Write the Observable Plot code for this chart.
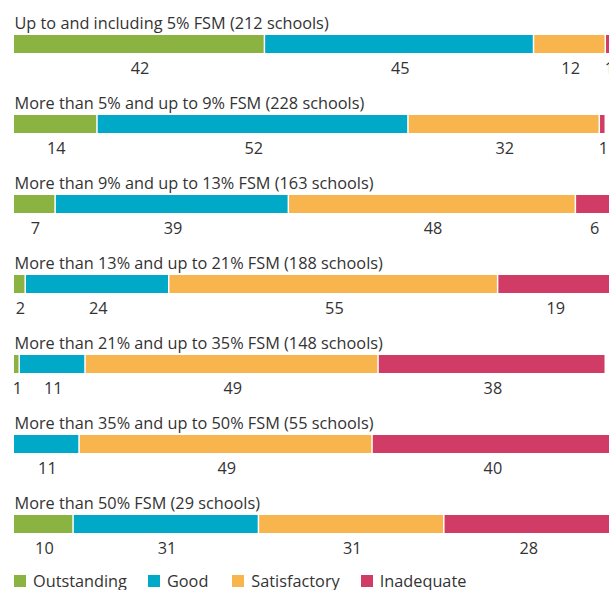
<!DOCTYPE html>
<html>
<head>
<meta charset="utf-8">
<script src="https://cdn.jsdelivr.net/npm/d3@7"></script>
<script src="https://cdn.jsdelivr.net/npm/@observablehq/plot@0.6"></script>
<style>
  html, body { margin: 0; padding: 0; background: #fff; overflow: hidden; }
  #chart { width: 609px; }
  .legend { display: flex; align-items: center; height: 18px; margin-top: -1px;
    font-family: "Open Sans", sans-serif; font-size: 16.3px; color: #333; }
  .legend .item { display: flex; align-items: center; }
  .legend .sw { width: 12px; height: 12px; margin-right: 7px; }
</style>
</head>
<body>
<div id="chart"></div>
<script>
const groups = [
  "Up to and including 5% FSM (212 schools)",
  "More than 5% and up to 9% FSM (228 schools)",
  "More than 9% and up to 13% FSM (163 schools)",
  "More than 13% and up to 21% FSM (188 schools)",
  "More than 21% and up to 35% FSM (148 schools)",
  "More than 35% and up to 50% FSM (55 schools)",
  "More than 50% FSM (29 schools)"
];
const categories = ["Outstanding", "Good", "Satisfactory", "Inadequate"];
const outstanding = [42, 14, 7, 2, 1, 0, 10];
const good = [45, 52, 39, 24, 11, 11, 31];
const satisfactory = [12, 32, 48, 55, 49, 49, 31];
const inadequate = [1, 1, 6, 19, 38, 40, 28];
const colors = ["#8ab341", "#00a9c8", "#f8b44d", "#d13c67"];

const series = [outstanding, good, satisfactory, inadequate];
const rows = [];
groups.forEach((g, i) => {
  categories.forEach((c, j) => rows.push({group: g, category: c, value: series[j][i]}));
});
const labelled = rows.filter(d => d.value > 0);

const FONT = '"Open Sans", sans-serif';

const chart = Plot.plot({
  width: 609,
  height: 573,
  marginLeft: 0, marginRight: 0, marginTop: 0, marginBottom: 0,
  style: {fontFamily: FONT, fontSize: "16.3px", color: "#333", background: "#fff", overflow: "hidden"},
  x: {domain: [0, 100], range: [14, 612], axis: null},
  y: {type: "band", domain: groups, range: [35, 533], paddingInner: 0.775, paddingOuter: 0, axis: null},
  color: {domain: categories, range: colors},
  marks: [
    Plot.barX(rows, {x: "value", y: "group", fill: "category", insetRight: 1.5}),
    Plot.text(groups, {x: d => 0, y: d => d, text: d => d, textAnchor: "start", lineAnchor: "bottom", dy: -16, fill: "#333"}),
    Plot.text(labelled, Plot.stackX({x: "value", y: "group", z: "category", text: d => String(d.value), dy: 24, fill: "#333"}))
  ]
});
document.getElementById("chart").appendChild(chart);

const legend = document.createElement("div");
legend.className = "legend";
const gaps = [14, 21, 24, 21];
categories.forEach((c, j) => {
  const item = document.createElement("div");
  item.className = "item";
  item.style.marginLeft = gaps[j] + "px";
  const sw = document.createElement("span");
  sw.className = "sw";
  sw.style.background = colors[j];
  const t = document.createElement("span");
  t.textContent = c;
  item.appendChild(sw);
  item.appendChild(t);
  legend.appendChild(item);
});
document.getElementById("chart").appendChild(legend);
</script>
</body>
</html>
